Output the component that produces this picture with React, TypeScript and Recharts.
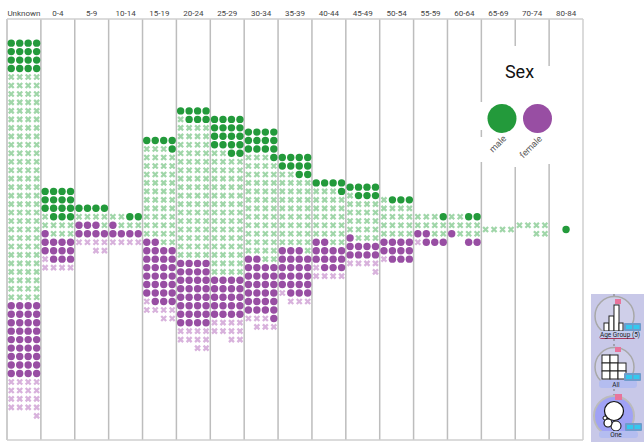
import { ReferenceLine, Scatter, ScatterChart, XAxis, YAxis } from 'recharts';

const ageGroups = ['Unknown', '0-4', '5-9', '10-14', '15-19', '20-24', '25-29', '30-34', '35-39', '40-44', '45-49', '50-54', '55-59', '60-64', '65-69', '70-74', '80-84'];

// dots per age group, stacked top to bottom in this order
const maleFilled = [16, 15, 4, 2, 5, 7, 18, 13, 10, 5, 7, 3, 1, 2, 0, 0, 1];
const maleCrossed = [108, 8, 5, 5, 45, 65, 58, 49, 35, 25, 20, 17, 9, 9, 4, 6, 0];
const femaleFilled = [36, 12, 7, 5, 29, 32, 20, 27, 22, 13, 9, 11, 5, 3, 0, 0, 0];
const femaleCrossed = [17, 5, 6, 4, 7, 10, 10, 6, 4, 5, 5, 1, 1, 0, 0, 0, 0];

const legendLabels = ['male', 'female'];

const GREEN = '#239a3b';
const PURPLE = '#984ea3';
const GREEN_LIGHT = '#a0d6a9';
const PURPLE_LIGHT = '#d8b2dc';
const GRID = '#bdbdbd';

type Dot = { x: number; y: number };

// Unit chart layout: rows of four, filled right to left, column centred on the middle line.
function buildDots() {
  const out: Dot[][] = [[], [], [], []];
  ageGroups.forEach((_, g) => {
    const counts = [maleFilled[g], maleCrossed[g], femaleFilled[g], femaleCrossed[g]];
    const total = counts.reduce((a, b) => a + b, 0);
    const perRow = Math.min(4, total);
    const rows = Math.ceil(total / perRow);
    let i = 0;
    counts.forEach((n, s) => {
      for (let k = 0; k < n; k++, i++) {
        const col = perRow - 1 - (i % perRow);
        const row = Math.floor(i / perRow);
        out[s].push({ x: g + 0.5 + (col - (perRow - 1) / 2) * 0.25, y: (rows - 1) / 2 - row });
      }
    });
  });
  return out;
}

const [maleDots, maleCross, femaleDots, femaleCross] = buildDots();

function circleShape(fill: string) {
  return (p: any) => <circle cx={p.cx} cy={p.cy} r={3.7} fill={fill} />;
}

function crossShape(stroke: string) {
  return (p: any) => (
    <path
      d={`M${p.cx - 2.5} ${p.cy - 2.5}L${p.cx + 2.5} ${p.cy + 2.5}M${p.cx + 2.5} ${p.cy - 2.5}L${p.cx - 2.5} ${p.cy + 2.5}`}
      stroke={stroke}
      strokeWidth={2.3}
      fill="none"
    />
  );
}

function WidgetTab({ x, y }: { x: number; y: number }) {
  return (
    <g>
      <rect x={x} y={y} width={17} height={8} rx={1} fill="#6f9ccb" />
      <rect x={x + 2} y={y + 2} width={6} height={4} fill="#35c8ee" />
      <rect x={x + 9.5} y={y + 2} width={6} height={4} fill="#35c8ee" />
    </g>
  );
}

function Widgets() {
  const bars = [[604, 323, 5], [609, 316, 5], [614, 305, 5], [619, 323, 4]];
  const cells = [[602, 355], [610, 355], [602, 363], [610, 363], [618, 363], [602, 371], [610, 371], [618, 371]];
  return (
    <g>
      <rect x={591} y={294} width={53} height={148} fill="#c8c8e8" />
      <line x1={614} y1={294} x2={614} y2={400} stroke="#777" strokeDasharray="2 3" />

      <circle cx={614.5} cy={316} r={19.5} fill="#cfcfe9" stroke="#a8a8a8" strokeWidth={1.5} />
      <rect x={615} y={299} width={6} height={5} fill="#e8749c" />
      {bars.map(([x, y, w], i) => (
        <rect key={i} x={x} y={y} width={w} height={331 - y} fill="#fff" stroke="#222" strokeWidth={1} />
      ))}
      <rect x={599} y={333} width={37} height={6} rx={3} fill="#a83a5c" />
      <rect x={599} y={331} width={42} height={7} rx={2} fill="#c4cdf0" />
      <text x={620} y={337} textAnchor="middle" fontSize={6.5} fontFamily="Roboto" fill="#222">Age Group (5)</text>
      <WidgetTab x={624} y={323} />

      <circle cx={614.5} cy={367} r={19.5} fill="#cfcfe9" stroke="#a8a8a8" strokeWidth={1.5} />
      <rect x={615} y={347} width={6} height={5} fill="#e8749c" />
      {cells.map(([x, y], i) => (
        <rect key={i} x={x} y={y} width={8} height={8} fill="#fff" stroke="#222" strokeWidth={1} />
      ))}
      <rect x={599} y={380} width={38} height={8} rx={3} fill="#b4bdf0" />
      <text x={616} y={387} textAnchor="middle" fontSize={6.5} fontFamily="Roboto" fill="#222">All</text>
      <WidgetTab x={624} y={373} />

      <circle cx={614} cy={416} r={20} fill="#a0a2f5" stroke="#bbb" strokeWidth={2} />
      <rect x={615} y={394} width={7} height={6} fill="#e8749c" />
      <circle cx={614} cy={411} r={9.5} fill="#fff" stroke="#111" strokeWidth={1.2} />
      <circle cx={616} cy={426} r={5} fill="#fff" stroke="#111" strokeWidth={1} />
      <circle cx={608} cy={423} r={4} fill="#fff" stroke="#111" strokeWidth={1.2} />
      <circle cx={605} cy={418} r={2} fill="#fff" stroke="#111" strokeWidth={1} />
      <rect x={599} y={431} width={39} height={7} rx={3} fill="#b4bdf0" />
      <text x={616} y={437} textAnchor="middle" fontSize={6.5} fontFamily="Roboto" fill="#222">One</text>
      <WidgetTab x={625} y={423} />
    </g>
  );
}

function SexLegend() {
  return (
    <g>
      <rect x={478} y={102} width={6} height={28} fill="#fff" />
      <rect x={478} y={137} width={6} height={25} fill="#fff" />
      <rect x={512} y={46} width={6} height={121} fill="#fff" />
      <rect x={546} y={66} width={6} height={98} fill="#fff" />
      <text x={519.5} y={78} textAnchor="middle" fontSize={18} fontFamily="Roboto" fill="#111">Sex</text>
      <circle cx={502} cy={118.5} r={14.5} fill={GREEN} />
      <circle cx={537.5} cy={118.5} r={14.5} fill={PURPLE} />
      <text transform="translate(500,146) rotate(-45)" textAnchor="middle" fontSize={9} fontFamily="Roboto" fill="#555">{legendLabels[0]}</text>
      <text transform="translate(533,149) rotate(-45)" textAnchor="middle" fontSize={9} fontFamily="Roboto" fill="#555">{legendLabels[1]}</text>
    </g>
  );
}

export default function App() {
  const boundaries = ageGroups.map((_, i) => i + 1).slice(0, -1);
  return (
    <div style={{ position: 'absolute', left: 0, top: 0, width: 644, height: 444, background: '#fff', overflow: 'hidden' }}>
      <ScatterChart width={644} height={444} margin={{ top: 0, right: 61, bottom: 4, left: 7 }}>
        <XAxis
          xAxisId={0}
          type="number"
          dataKey="x"
          orientation="top"
          height={19}
          domain={[0, 17]}
          ticks={ageGroups.map((_, i) => i + 0.5)}
          interval={0}
          tickFormatter={(v: number) => ageGroups[Math.floor(v)]}
          tick={{ fontSize: 8, fontFamily: 'Roboto', fill: '#444' }}
          tickLine={false}
          tickSize={0}
          tickMargin={3}
          axisLine={{ stroke: '#cfcfcf', strokeWidth: 1.5 }}
        />
        <YAxis yAxisId={0} type="number" dataKey="y" hide domain={[-24.85, 24.85]} />
        <ReferenceLine x={0} stroke={GRID} strokeWidth={1.5} />
        {boundaries.map((b) => (
          <ReferenceLine key={b} x={b} stroke={GRID} strokeWidth={1.5} />
        ))}
        <ReferenceLine x={17} stroke="#cfcfcf" strokeWidth={1.5} />
        <ReferenceLine y={-24.85} stroke="#cfcfcf" strokeWidth={1.5} />
        <Scatter data={maleCross} shape={crossShape(GREEN_LIGHT)} isAnimationActive={false} />
        <Scatter data={femaleCross} shape={crossShape(PURPLE_LIGHT)} isAnimationActive={false} />
        <Scatter data={maleDots} shape={circleShape(GREEN)} isAnimationActive={false} />
        <Scatter data={femaleDots} shape={circleShape(PURPLE)} isAnimationActive={false} />
      </ScatterChart>
      <svg width={644} height={444} style={{ position: 'absolute', left: 0, top: 0, pointerEvents: 'none' }}>
        <SexLegend />
        <Widgets />
      </svg>
    </div>
  );
}
